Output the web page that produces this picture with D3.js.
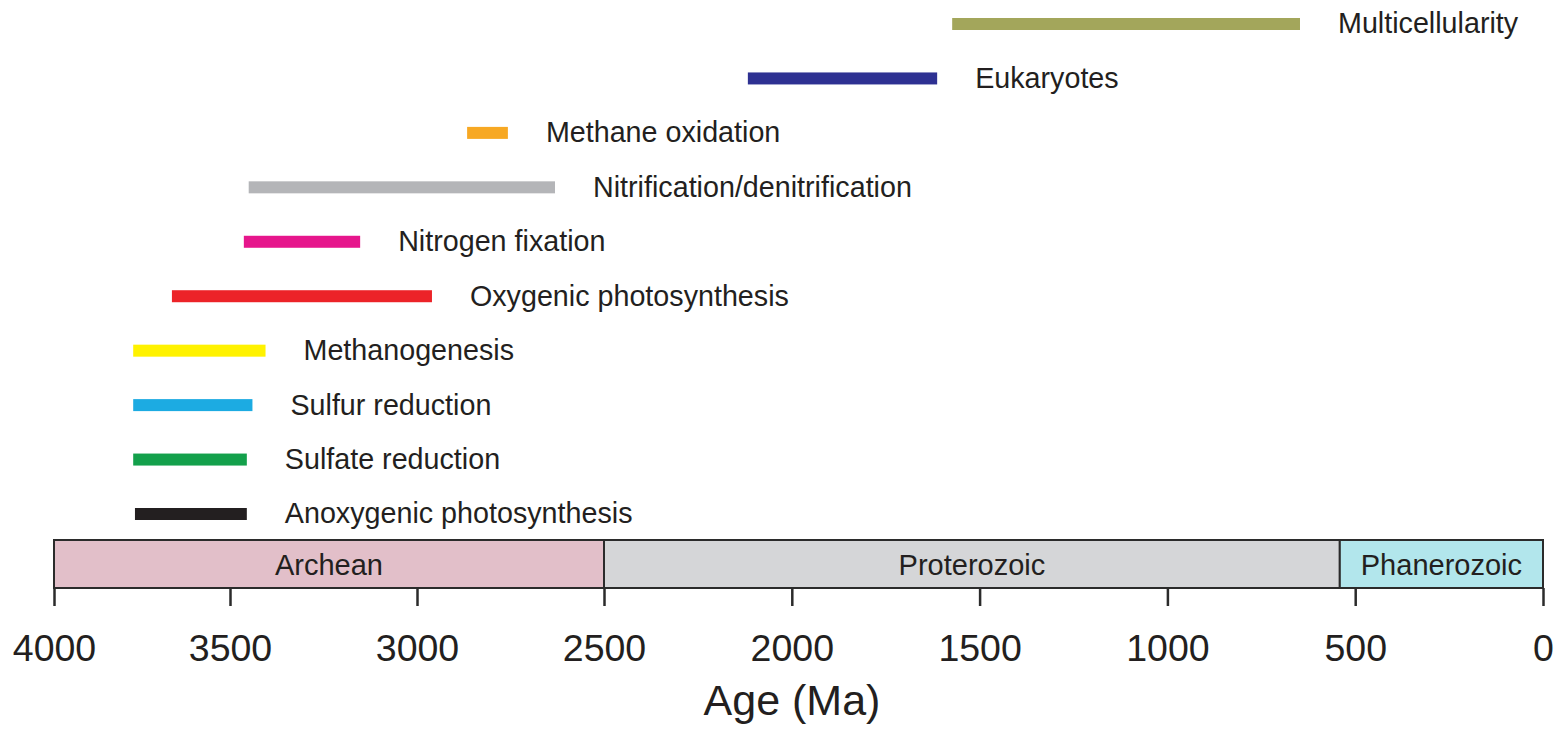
<!DOCTYPE html>
<html>
<head>
<meta charset="utf-8">
<script src="https://cdn.jsdelivr.net/npm/d3@7"></script>
<style>
  body { margin: 0; background: #fff; }
  svg text { font-family: "Liberation Sans", Arial, sans-serif; fill: #231f20; }
</style>
</head>
<body>
<div id="chart"></div>
<script>
// processes, listed bottom to top
var processes = ["Anoxygenic photosynthesis", "Sulfate reduction", "Sulfur reduction", "Methanogenesis",
    "Oxygenic photosynthesis", "Nitrogen fixation", "Nitrification/denitrification",
    "Methane oxidation", "Eukaryotes", "Multicellularity"];
var startAge = [3770, 3775, 3775, 3775, 3665, 3463, 3450, 2866, 2117, 1573];
var endAge   = [3455, 3455, 3440, 3405, 2960, 3152, 2631, 2757, 1613, 647];
var barColors = ["#231f20", "#13a04b", "#1cabe2", "#fff200", "#ec2328", "#e6168c",
    "#b4b5b8", "#f7a823", "#2e3192", "#a3a65b"];

var eons = ["Archean", "Proterozoic", "Phanerozoic"];
var eonStart = [4000, 2500, 541];
var eonEnd = [2500, 541, 0];
var eonColors = ["#e2bfc9", "#d5d6d8", "#b2e6ec"];

var tickValues = [4000, 3500, 3000, 2500, 2000, 1500, 1000, 500, 0];

var width = 1559, height = 737;

var svg = d3.select("#chart").append("svg").attr("width", width).attr("height", height);

// age axis, calibrated on the printed ticks
var x = d3.scaleLinear().domain([4000, 3500, 2500, 0]).range([54, 230, 604, 1543]);
var y = d3.scalePoint().domain(processes).range([514, 24]);

var bars = svg.append("g").attr("class", "bars");

bars.selectAll("rect")
    .data(processes)
    .enter().append("rect")
    .attr("x", function (d, i) { return x(startAge[i]); })
    .attr("y", function (d) { return y(d) - 6; })
    .attr("width", function (d, i) { return x(endAge[i]) - x(startAge[i]); })
    .attr("height", 12)
    .style("fill", function (d, i) { return barColors[i]; });

bars.selectAll("text")
    .data(processes)
    .enter().append("text")
    .attr("x", function (d, i) { return x(endAge[i]) + 38; })
    .attr("y", function (d) { return y(d); })
    .attr("dy", "0.33em")
    .style("font-size", "28.7px")
    .text(function (d) { return d; });

// eon boxes
var boxTop = 540, boxBottom = 588;
var eonG = svg.append("g").attr("class", "eons");

eonG.selectAll("rect")
    .data(eons)
    .enter().append("rect")
    .attr("x", function (d, i) { return x(eonStart[i]); })
    .attr("y", boxTop)
    .attr("width", function (d, i) { return x(eonEnd[i]) - x(eonStart[i]); })
    .attr("height", boxBottom - boxTop)
    .style("fill", function (d, i) { return eonColors[i]; })
    .style("stroke", "#2b2b2b")
    .style("stroke-width", 2);

eonG.selectAll("text")
    .data(eons)
    .enter().append("text")
    .attr("x", function (d, i) { return (x(eonStart[i]) + x(eonEnd[i])) / 2; })
    .attr("y", 575)
    .attr("text-anchor", "middle")
    .style("font-size", "29px")
    .text(function (d) { return d; });

// axis below the boxes
var axis = d3.axisBottom(x).tickValues(tickValues).tickSize(18).tickPadding(28).tickFormat(d3.format("d"));
var axisG = svg.append("g").attr("transform", "translate(0," + boxBottom + ")").call(axis);
axisG.select(".domain").remove();
axisG.selectAll(".tick line").style("stroke", "#2b2b2b").style("stroke-width", 2.5);
axisG.selectAll(".tick text")
    .style("font-size", "37.5px")
    .style("font-family", "'Liberation Sans', Arial, sans-serif")
    .style("fill", "#231f20");

svg.append("text")
    .attr("x", 792)
    .attr("y", 715)
    .attr("text-anchor", "middle")
    .style("font-size", "43px")
    .text("Age (Ma)");
</script>
</body>
</html>
